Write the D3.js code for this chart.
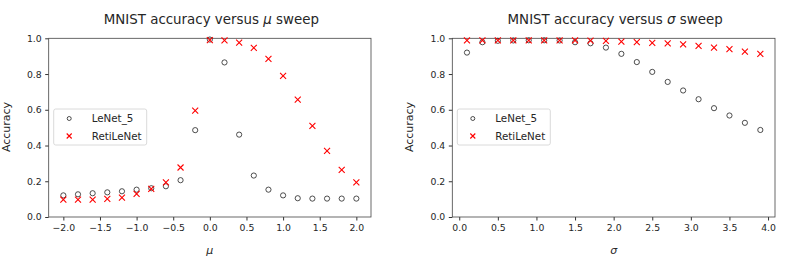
<!DOCTYPE html>
<html>
<head>
<meta charset="utf-8">
<script src="https://cdn.jsdelivr.net/npm/d3@7"></script>
<style>
  body { margin: 0; background: #fff; }
  svg text { font-family: "DejaVu Sans", sans-serif; fill: #262626; }
  .tick line { stroke: #333; }
  .tick text { font-size: 9.3px; fill: #262626; }
  .domain { display: none; }
</style>
</head>
<body>
<div id="chart"></div>
<script>
// mu sweep
var muValues = [-2.0, -1.8, -1.6, -1.4, -1.2, -1.0, -0.8, -0.6, -0.4, -0.2, 0.0,
                0.2, 0.4, 0.6, 0.8, 1.0, 1.2, 1.4, 1.6, 1.8, 2.0];
var muLeNet = [0.121, 0.127, 0.133, 0.138, 0.144, 0.153, 0.161, 0.172, 0.206, 0.486, 0.993,
               0.865, 0.461, 0.232, 0.153, 0.121, 0.105, 0.103, 0.103, 0.103, 0.103];
var muRetiLeNet = [0.097, 0.097, 0.097, 0.101, 0.108, 0.129, 0.157, 0.194, 0.277, 0.595, 0.990,
                   0.988, 0.976, 0.947, 0.885, 0.790, 0.657, 0.510, 0.370, 0.264, 0.194];

// sigma sweep
var sigmaValues = [0.1, 0.3, 0.5, 0.7, 0.9, 1.1, 1.3, 1.5, 1.7, 1.9,
                   2.1, 2.3, 2.5, 2.7, 2.9, 3.1, 3.3, 3.5, 3.7, 3.9];
var sigmaLeNet = [0.920, 0.978, 0.986, 0.988, 0.989, 0.989, 0.988, 0.978, 0.972, 0.948,
                  0.913, 0.867, 0.812, 0.756, 0.708, 0.659, 0.609, 0.568, 0.527, 0.487];
var sigmaRetiLeNet = [0.988, 0.988, 0.988, 0.988, 0.988, 0.988, 0.988, 0.988, 0.987, 0.985,
                      0.981, 0.978, 0.975, 0.972, 0.966, 0.958, 0.948, 0.940, 0.926, 0.913];

var muTicks = [-2.0, -1.5, -1.0, -0.5, 0.0, 0.5, 1.0, 1.5, 2.0];
var sigmaTicks = [0.0, 0.5, 1.0, 1.5, 2.0, 2.5, 3.0, 3.5, 4.0];
var yTicks = [0.0, 0.2, 0.4, 0.6, 0.8, 1.0];
var seriesNames = ["LeNet_5", "RetiLeNet"];

var svg = d3.select("#chart").append("svg")
    .attr("width", 789)
    .attr("height", 264);

function minus(s) { return s.replace("-", "\u2212"); }

function drawPanel(opts) {
    var x = d3.scaleLinear().domain(opts.xDomain).range([opts.left, opts.right]);
    var y = d3.scaleLinear().domain([0, 1]).range([217, 38.3]);

    var g = svg.append("g");

    // axes
    g.append("g")
        .attr("transform", "translate(0,217)")
        .call(d3.axisBottom(x).tickValues(opts.xTicks).tickSize(3.5).tickPadding(3.5)
            .tickFormat(function(d) { return minus(d3.format(".1f")(d)); }));
    g.append("g")
        .attr("transform", "translate(" + opts.left + ",0)")
        .call(d3.axisLeft(y).tickValues(yTicks).tickSize(3.5).tickPadding(3.5)
            .tickFormat(d3.format(".1f")));

    // frame
    g.append("rect")
        .attr("x", opts.left)
        .attr("y", 38.3)
        .attr("width", opts.right - opts.left)
        .attr("height", 217 - 38.3)
        .attr("fill", "none")
        .attr("stroke", "#444")
        .attr("stroke-width", 0.8);

    // LeNet_5 circles
    g.selectAll(".lenet")
        .data(opts.xs.map(function(v, i) { return [v, opts.lenet[i]]; }))
        .enter().append("circle")
        .attr("cx", function(d) { return x(d[0]); })
        .attr("cy", function(d) { return y(d[1]); })
        .attr("r", 2.6)
        .attr("fill", "none")
        .attr("stroke", "#222")
        .attr("stroke-width", 0.8);

    // RetiLeNet crosses
    var s = 3;
    g.selectAll(".reti")
        .data(opts.xs.map(function(v, i) { return [v, opts.reti[i]]; }))
        .enter().append("path")
        .attr("d", function(d) {
            var cx = x(d[0]), cy = y(d[1]);
            return "M" + (cx - s) + "," + (cy - s) + "L" + (cx + s) + "," + (cy + s) +
                "M" + (cx - s) + "," + (cy + s) + "L" + (cx + s) + "," + (cy - s);
        })
        .attr("stroke", "red")
        .attr("stroke-width", 1.1);

    // title
    var mid = (opts.left + opts.right) / 2;
    var title = g.append("text")
        .attr("x", mid + 1.5)
        .attr("y", 24)
        .attr("text-anchor", "middle")
        .style("font-size", "13.4px");
    title.append("tspan").text("MNIST accuracy versus ");
    title.append("tspan").style("font-style", "italic").text(opts.symbol);
    title.append("tspan").text(" sweep");

    // axis labels
    g.append("text")
        .attr("x", mid)
        .attr("y", 254)
        .attr("text-anchor", "middle")
        .style("font-size", "11px")
        .style("font-style", "italic")
        .text(opts.symbol);

    g.append("text")
        .attr("transform", "translate(" + (opts.left - 39) + ",127) rotate(-90)")
        .attr("text-anchor", "middle")
        .style("font-size", "11px")
        .text("Accuracy");

    // legend
    var lx = opts.left + 5, ly = 109;
    g.append("rect")
        .attr("x", lx)
        .attr("y", ly)
        .attr("width", 93)
        .attr("height", 36)
        .attr("rx", 2)
        .attr("fill", "white")
        .attr("fill-opacity", 0.8)
        .attr("stroke", "#d0d0d0")
        .attr("stroke-width", 0.8);

    seriesNames.forEach(function(name, i) {
        var ey = ly + 9.5 + i * 17.5;
        if (i === 0) {
            g.append("circle")
                .attr("cx", lx + 15.5)
                .attr("cy", ey)
                .attr("r", 2)
                .attr("fill", "none")
                .attr("stroke", "#222")
                .attr("stroke-width", 0.8);
        } else {
            var t = 2.5;
            g.append("path")
                .attr("d", "M" + (lx + 15.5 - t) + "," + (ey - t) + "L" + (lx + 15.5 + t) + "," + (ey + t) +
                    "M" + (lx + 15.5 - t) + "," + (ey + t) + "L" + (lx + 15.5 + t) + "," + (ey - t))
                .attr("stroke", "red")
                .attr("stroke-width", 1.1);
        }
        g.append("text")
            .attr("x", lx + 38)
            .attr("y", ey + 3.8)
            .style("font-size", "10.3px")
            .text(name);
    });
}

drawPanel({
    left: 48.7, right: 371,
    xDomain: [-2.2, 2.2],
    xTicks: muTicks,
    xs: muValues, lenet: muLeNet, reti: muRetiLeNet,
    symbol: "\u03bc"
});

drawPanel({
    left: 452.3, right: 775,
    xDomain: [-0.09, 4.09],
    xTicks: sigmaTicks,
    xs: sigmaValues, lenet: sigmaLeNet, reti: sigmaRetiLeNet,
    symbol: "\u03c3"
});
</script>
</body>
</html>
